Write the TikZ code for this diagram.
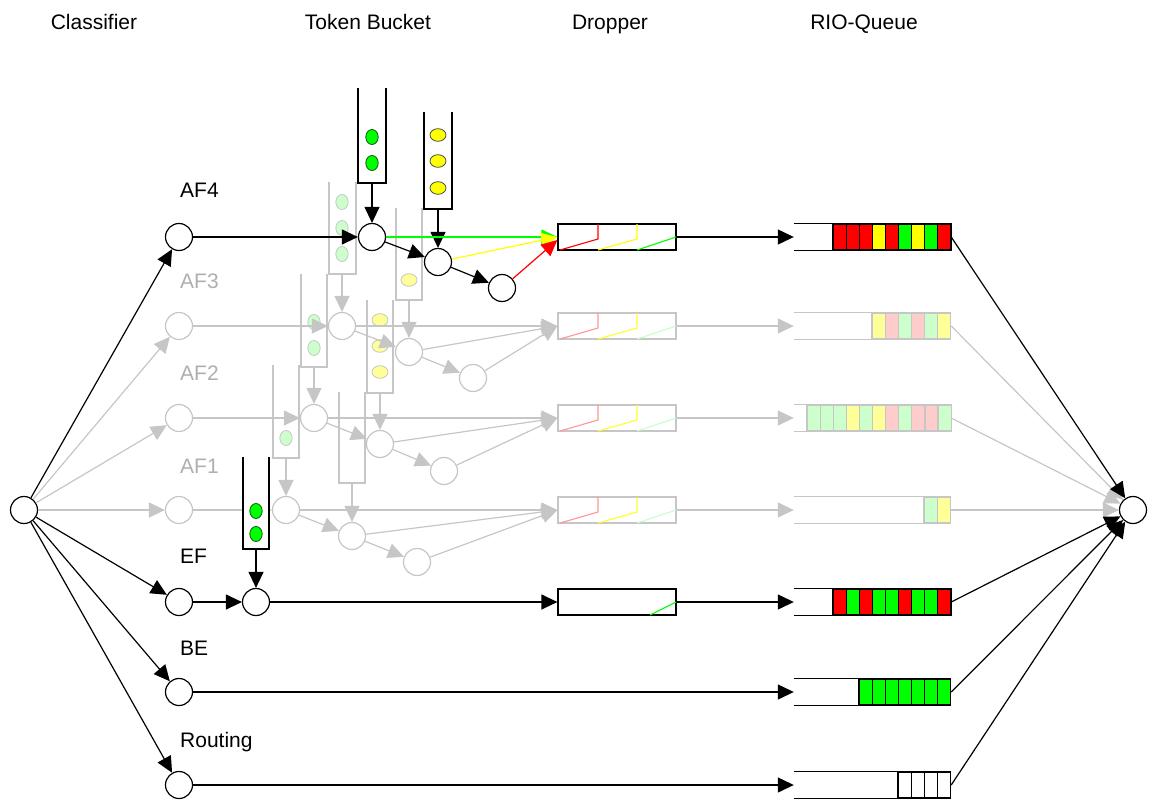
\documentclass[tikz,border=0pt]{standalone}
\usepackage{fontspec}
\setmainfont{Liberation Sans}
\usetikzlibrary{arrows.meta,calc}
\definecolor{lgray}{RGB}{198,198,198}
\definecolor{tgray}{RGB}{175,175,175}
\definecolor{pgreen}{RGB}{0,255,0}
\definecolor{pred}{RGB}{255,0,0}
\definecolor{pyellow}{RGB}{255,255,0}
\definecolor{lred}{RGB}{255,204,204}
\definecolor{lgreen}{RGB}{204,255,204}
\definecolor{lyellow}{RGB}{255,255,153}
\definecolor{rampred}{RGB}{255,150,150}
\definecolor{rampyellow}{RGB}{255,255,40}
\definecolor{rampgreen}{RGB}{200,255,200}
\definecolor{dkgreen}{RGB}{0,90,0}

\tikzset{
  circ/.style={circle, draw, fill=white, minimum size=27pt, inner sep=0pt, line width=1.2pt},
  gcirc/.style={circ, draw=lgray},
  flow/.style={line width=1.2pt, -{Triangle[length=16pt,width=15pt]}},
  gflow/.style={flow, draw=lgray},
  plain/.style={line width=1.2pt},
  dropbox/.style={rectangle, draw, fill=white, line width=1.2pt, minimum width=118pt, minimum height=26pt, inner sep=0pt},
  gdropbox/.style={dropbox, draw=lgray},
  qnode/.style={rectangle, minimum width=157pt, minimum height=26pt, inner sep=0pt},
  lbl/.style={anchor=base west, inner sep=0pt},
  hdr/.style={anchor=base, inner sep=0pt}
}

% open-topped token bucket: left x, right x, top y, bottom y, colour
\newcommand\tbucket[5]{\draw[#5, line width=1.2pt] (#1,#3) -- (#1,#4) -- (#2,#4) -- (#2,#3);}
% green token (upright oval): x, y, fill, outline
\newcommand\gtok[4]{\filldraw[fill=#3, draw=#4, line width=0.8pt] (#1,#2) ellipse [x radius=6.2, y radius=7.5];}
% yellow token (flat oval): x, y, fill, outline
\newcommand\ytok[4]{\filldraw[fill=#3, draw=#4, line width=0.8pt] (#1,#2) ellipse [x radius=8, y radius=6.3];}
% drop-probability ramps of a dropper box whose top edge is at y=#1
\newcommand\ramps[4]{%
  \begin{scope}[shift={(558,#1)}, line width=1.1pt]
    \draw[#2] (2,26) -- (40,15) -- (40,0);
    \draw[#3] (40,26) -- (79,15) -- (79,0);
    \draw[#4] (79,26) -- (118,13);
  \end{scope}}
% queue cells: centre y, first x, outline colour, fills
\newcommand\qcells[4]{%
  \foreach \c [count=\i from 0] in {#4} {
    \filldraw[fill=\c, draw=#3, line width=1.2pt] ({#2+\i*13.1},{#1-13}) rectangle ++(13.1,26);
  }}

\begin{document}
\begin{tikzpicture}[x=1pt, y=-1pt, font=\fontsize{21}{25}\selectfont]
\useasboundingbox (0,0) rectangle (1155,800);

% column headings
\node[hdr] (hCl) at (94,30) {Classifier};
\node[hdr] (hTB) at (368,30) {Token Bucket};
\node[hdr] (hDr) at (610,30) {Dropper};
\node[hdr] (hRQ) at (864,30) {RIO-Queue};

% row labels
\node[lbl] (lAF4) at (180,197) {AF4};
\node[lbl, text=tgray] (lAF3) at (180,288) {AF3};
\node[lbl, text=tgray] (lAF2) at (180,380) {AF2};
\node[lbl, text=tgray] (lAF1) at (180,473) {AF1};
\node[lbl] (lEF) at (180,563) {EF};
\node[lbl] (lBE) at (180,655) {BE};
\node[lbl] (lRt) at (180,747) {Routing};

% ---------------- inactive classes (grey) ----------------
% buckets
\tbucket{329}{356}{182}{274}{lgray}
\gtok{342}{202}{lgreen}{lgray}\gtok{342}{228}{lgreen}{lgray}\gtok{342}{254}{lgreen}{lgray}
\tbucket{396}{422}{208}{300}{lgray}
\ytok{409}{280}{lyellow}{lgray}
\tbucket{301}{327}{274}{367}{lgray}
\gtok{314}{322}{lgreen}{lgray}\gtok{314}{348}{lgreen}{lgray}
\tbucket{367}{393}{300}{393}{lgray}
\ytok{380}{320}{lyellow}{lgray}\ytok{380}{346}{lyellow}{lgray}\ytok{380}{372}{lyellow}{lgray}
\tbucket{273}{299}{365}{458}{lgray}
\gtok{286}{438}{lgreen}{lgray}
\tbucket{339}{365}{392}{483}{lgray}

\coordinate (b31) at (342,274);
\coordinate (b32) at (409,300);
\coordinate (b21) at (314,367);
\coordinate (b22) at (380,393);
\coordinate (b11) at (286,458);
\coordinate (b12) at (352,483);

% nodes
\node[gcirc] (a3) at (179,326) {};
\node[gcirc] (a2) at (179,418) {};
\node[gcirc] (a1) at (179,510) {};
\node[gcirc] (m31) at (342,326) {};
\node[gcirc] (m32) at (409,352) {};
\node[gcirc] (m33) at (473,378) {};
\node[gcirc] (m21) at (314,418) {};
\node[gcirc] (m22) at (380,444) {};
\node[gcirc] (m23) at (444,471) {};
\node[gcirc] (m11) at (286,510) {};
\node[gcirc] (m12) at (352,536) {};
\node[gcirc] (m13) at (417,562) {};
\node[gdropbox] (d3) at (617,326) {};
\node[gdropbox] (d2) at (617,418) {};
\node[gdropbox] (d1) at (617,510) {};
\ramps{313}{rampred}{rampyellow}{rampgreen}
\ramps{405}{rampred}{rampyellow}{rampgreen}
\ramps{497}{rampred}{rampyellow}{rampgreen}
\node[qnode] (q3) at (872.5,326) {};
\node[qnode] (q2) at (872.5,418) {};
\node[qnode] (q1) at (872.5,510) {};
\foreach \q in {q3,q2,q1}{
  \draw[plain, lgray] (\q.north west) -- (\q.north east) (\q.south west) -- (\q.south east);
}
\qcells{326}{872}{lgray}{lyellow,lred,lgreen,lred,lgreen,lyellow}
\qcells{418}{807}{lgray}{lgreen,lgreen,lgreen,lyellow,lgreen,lyellow,lred,lgreen,lred,lred,lgreen}
\qcells{510}{924}{lgray}{lgreen,lyellow}

% grey connectors
\foreach \r in {3,2,1}{
  \draw[gflow] (a\r) -- (m\r1);
  \draw[gflow] (b\r1) -- (m\r1);
  \draw[gflow] (b\r2) -- (m\r2);
  \draw[gflow] (m\r1) -- (m\r2);
  \draw[gflow] (m\r2) -- (m\r3);
  \draw[gflow] (m\r1) -- (d\r.west);
  \draw[gflow] (m\r2) -- (d\r.west);
  \draw[gflow] (m\r3) -- (d\r.west);
  \draw[gflow] (d\r) -- (q\r.west);
}

% ---------------- active classes (black) ----------------
\node[circ] (src) at (24,510) {};
\node[circ] (sink) at (1133,510) {};
\node[circ] (a4) at (179,237) {};
\node[circ] (ef) at (179,602) {};
\node[circ] (be) at (179,692) {};
\node[circ] (rt) at (179,785) {};

\foreach \r in {3,2,1}{
  \draw[gflow] (src) -- (a\r);
  \draw[gflow] (q\r.east) -- (sink);
}

% AF4 token buckets
\tbucket{358}{386}{88}{183}{black}
\gtok{372}{137}{pgreen}{dkgreen}\gtok{372}{163}{pgreen}{dkgreen}
\tbucket{424}{452}{112}{209}{black}
\ytok{438}{135}{pyellow}{black!70}\ytok{438}{161}{pyellow}{black!70}\ytok{438}{188}{pyellow}{black!70}
\coordinate (b41) at (372,183);
\coordinate (b42) at (438,209);

\node[circ] (m41) at (372,237) {};
\node[circ] (m42) at (438,262) {};
\node[circ] (m43) at (502,288) {};
\node[dropbox] (d4) at (617,237) {};
\ramps{224}{pred}{pyellow}{pgreen}
\node[qnode] (q4) at (872.5,237) {};
\draw[plain] (q4.north west) -- (q4.north east) (q4.south west) -- (q4.south east);
\qcells{237}{833}{black}{pred,pred,pred,pyellow,pred,pgreen,pyellow,pgreen,pred}

% EF token bucket
\fill[white] (243,457) rectangle (269,549);
\tbucket{243}{269}{457}{549}{black}
\gtok{256}{511}{pgreen}{dkgreen}\gtok{256}{534}{pgreen}{dkgreen}
\coordinate (bef) at (256,549);
\node[circ] (mef) at (256,602) {};
\node[dropbox] (de) at (617,602) {};
\draw[pgreen, line width=1.1pt] (650,615) -- (676,602);
\node[qnode] (qe) at (872.5,602) {};
\draw[plain] (qe.north west) -- (qe.north east) (qe.south west) -- (qe.south east);
\qcells{602}{833}{black}{pred,pgreen,pred,pgreen,pgreen,pred,pgreen,pgreen,pred}

% BE and routing queues
\node[qnode] (qb) at (872.5,692) {};
\draw[plain] (qb.north west) -- (qb.north east) (qb.south west) -- (qb.south east);
\qcells{692}{859}{black}{pgreen,pgreen,pgreen,pgreen,pgreen,pgreen,pgreen}
\node[qnode] (qr) at (872.5,785) {};
\draw[plain] (qr.north west) -- (qr.north east) (qr.south west) -- (qr.south east);
\qcells{785}{898}{black}{white,white,white,white}

% black connectors
\draw[flow] (src) -- (a4);
\draw[flow] (src) -- (ef);
\draw[flow] (src) -- (be);
\draw[flow] (src) -- (rt);
\draw[flow] (a4) -- (m41);
\draw[flow] (b41) -- (m41);
\draw[flow] (b42) -- (m42);
\draw[flow] (m41) -- (m42);
\draw[flow] (m42) -- (m43);
\draw[flow, pgreen] (m41) -- (d4.west);
\draw[flow, pyellow] (m42) -- (d4.west);
\draw[flow, pred] (m43) -- ($(d4.west)+(0,3)$);
\draw[flow] (d4) -- (q4.west);
\draw[flow] (ef) -- (mef);
\draw[flow] (bef) -- (mef);
\draw[flow] (mef) -- (de);
\draw[flow] (de) -- (qe.west);
\draw[flow] (be) -- (qb.west);
\draw[flow] (rt) -- (qr.west);
\draw[flow] (q4.east) -- (sink);
\draw[flow] (qe.east) -- (sink);
\draw[flow] (qb.east) -- (sink);
\draw[flow] (qr.east) -- (sink);
\end{tikzpicture}
\end{document}
